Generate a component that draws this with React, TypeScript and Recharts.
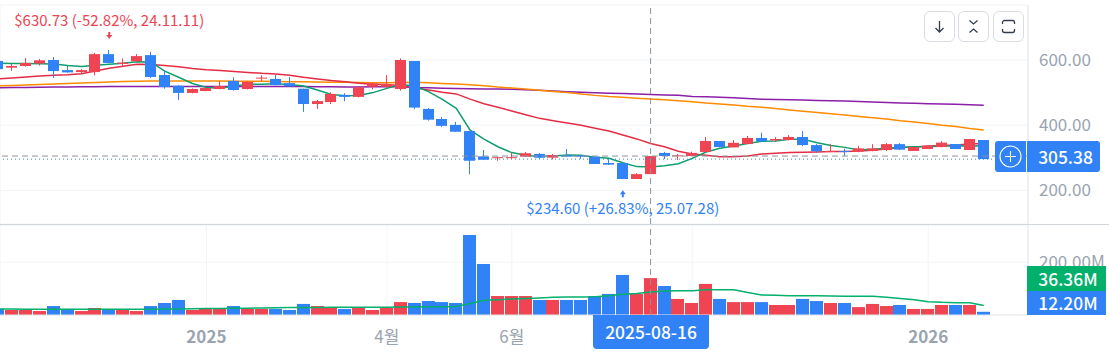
import React from 'react';
import { ComposedChart, Bar, Line, XAxis, YAxis, CartesianGrid, ReferenceLine, ReferenceDot } from 'recharts';

const RED = '#f04452';
const BLUE = '#3182f6';
const GREEN = '#00b06b';
const GRID = '#f2f4f6';
const AXIS = '#e5e8eb';
const LABEL = '#9aa4af';
const FONT = '"Noto Sans CJK KR", "Noto Sans", sans-serif';

const opens = [
  597, 576.5, 581.6, 589, 600, 569, 563, 563, 618, 588,
  596, 615, 554, 521, 499, 505, 511, 536, 511, 543,
  542, 529, 512, 465, 471, 493, 487, 518, 518, 511,
  597, 450, 419, 401, 382, 304.5, 299, 299, 303.5, 312,
  300.5, 307.6, 307.6, 303.5, 284, 284, 235, 250, 315, 304.5,
  305.6, 318, 351.6, 332, 342.4, 361, 353.6, 354.6, 364, 339,
  319, 321, 319, 321, 324, 342, 321, 327, 333, 342.4,
  324, 354.6,
];
const closes = [
  572, 581.6, 591, 599, 566, 562, 569, 618, 591, 592,
  612, 548, 517, 499, 511, 514, 520, 508, 533, 546,
  523, 519, 465, 474, 496, 487, 516, 528.4, 526.4, 600,
  454, 417, 398, 380, 291, 294, 302, 302, 314, 300.5,
  308.6, 303.5, 303.5, 281, 279, 235, 250, 305.38, 305.6, 307.6,
  315, 351.6, 333, 346, 361, 350.6, 357.7, 364, 339, 320,
  321, 319, 329, 329, 342, 325, 333, 337, 346.5, 327,
  357.7, 296,
];
const highs = [
  600, 589, 606, 603, 609, 582, 572, 622, 630.73, 605,
  618, 625, 569, 523, 513, 516, 535, 547, 535, 553,
  554, 548, 512, 477, 501, 498, 518, 530, 554, 605,
  597, 453, 425, 410, 382, 324, 303, 315, 318, 315,
  312, 327, 308.6, 304, 296, 285, 253, 305.38, 318, 312,
  319, 364, 351.6, 354.6, 367, 377, 363, 370, 382, 342,
  342, 328, 336, 342, 345.4, 345, 333, 337, 351.6, 342.4,
  357.7, 354.6,
];
const lows = [
  565, 567, 579.5, 583, 545, 561, 560, 553, 590, 580,
  595, 545, 512, 477, 498, 504, 510, 506, 510, 536,
  522, 518, 441, 450, 465, 474, 485, 510, 513, 506,
  449, 414, 394, 379, 250, 293, 291, 297, 302.5, 298,
  295, 302.5, 297, 281, 278, 234.6, 235, 250, 296, 293,
  304.6, 317, 332, 332, 342, 349.5, 349.5, 353.6, 336, 316,
  318, 305.6, 317, 320, 321, 324, 321, 327, 332, 327,
  324, 296,
];
const maGreen = [
  590, 589.5, 589, 588.5, 588, 583, 580, 584, 587, 590,
  595, 594, 566, 547, 528, 516, 513, 520, 526, 526,
  527, 525, 520, 508, 494, 490, 491, 500, 513, 524.6,
  520, 503, 479, 452, 385, 357, 334, 316, 308, 303.5,
  305.6, 308.6, 307.6, 301.5, 298.4, 285, 273, 272, 276, 282,
  298.4, 318, 329, 336, 344, 350.6, 351.6, 357, 357, 346.5,
  338, 332, 324, 326, 329, 332, 334, 334, 336, 336,
  337, 336,
];
const maRed = [
  542, 545, 548, 551, 553, 555, 558, 566, 575, 581,
  587, 586, 583, 579, 574, 570, 568, 565, 562, 559,
  557, 553, 547, 542, 537, 533, 529, 526, 525, 521,
  515, 508, 501, 496, 480, 466, 455, 443.6, 432, 421,
  414, 407, 400, 391, 382, 370, 358, 344, 334, 320,
  312, 307.6, 303.5, 303.5, 305.6, 312, 314, 316, 317, 318,
  319, 319, 321, 323, 327, 332, 333, 336, 338, 339,
  342, 344,
];
const maOrange = [
  521, 522, 523.5, 525, 526.5, 528, 529.5, 531, 532.5, 534,
  535, 535.5, 535.5, 535.5, 535.5, 535.5, 535.5, 535, 535, 534.5,
  534, 533.5, 533, 532.5, 532, 531.5, 531, 530.5, 530.5, 531,
  531.5, 530, 528, 526.4, 524, 521, 517, 514, 511, 507.5,
  503.5, 500, 496, 491.5, 488, 486, 483, 480.4, 478, 475,
  472, 468, 465, 462, 458, 455, 451, 447, 443, 439,
  435, 431, 427, 423, 419, 414, 410, 405, 400, 396,
  390, 385,
];
const maPurple = [
  515, 515.5, 516, 516.5, 517, 517.5, 518, 518, 518.5, 518.5,
  519, 519, 519, 519, 519, 519, 519, 519, 519, 519,
  519, 518.5, 518.5, 518, 518, 517.5, 517.5, 518, 518.5, 518,
  516, 515, 513.5, 512.5, 511.5, 511, 511, 510, 508.5, 507,
  505, 503, 501, 499.5, 498, 497, 495.5, 494, 493, 492,
  488, 487, 486, 484.5, 482, 480, 479, 478, 477, 476,
  475, 474, 472.5, 471, 470, 468.5, 467, 466, 465, 464,
  462.5, 461,
];
const volumes = [
  22.8, 19, 19, 15, 34, 23, 15, 26.5, 23, 19,
  15, 34, 45.5, 57, 19, 23, 23, 34, 23, 23,
  23, 19, 42, 34, 30, 23, 26.5, 19, 26.5, 49,
  45.5, 53, 49, 45.5, 303.6, 193.5, 72, 72, 72, 57,
  57, 57, 57, 72, 80, 152, 80, 140, 110, 61,
  45.5, 118, 61, 49, 49, 49, 38, 38, 61, 53,
  45.5, 45.5, 30, 42, 34, 38, 23, 23, 38, 38,
  38, 12.2,
];
const volumeMa = [
  22.8, 22.5, 22, 21.8, 21.8, 21.5, 21.5, 21.5, 21.5, 22,
  22, 22, 22.5, 23, 24, 25, 25, 25.5, 26, 27,
  27.5, 28, 28.5, 28.5, 29, 29, 29, 29.5, 29.5, 30,
  30, 31, 31.5, 32, 44, 55.7, 58, 61, 63, 64.5,
  67, 68, 68, 69.6, 73, 78.4, 82, 87, 91, 92,
  92, 96, 96, 96, 85, 76, 75, 73, 73, 73,
  72, 71, 71, 71, 67, 63, 58, 50.6, 48, 46.8,
  46.8, 36.36,
];

// the tick at 50 sits under the crosshair date box, so it has no visible label
const tickIndexes = [15, 28, 37, 50, 67];
const tickLabels = ['2025', '4월', '6월', '', '2026'];
const boldTicks = ['2025', '2026'];

const data = opens.map((open, i) => ({
  i,
  open,
  close: closes[i],
  range: [lows[i], highs[i]],
  volume: volumes[i],
  maGreen: maGreen[i],
  maRed: maRed[i],
  maOrange: maOrange[i],
  maPurple: maPurple[i],
  volumeMa: volumeMa[i],
}));

const CROSS_INDEX = 47;
const X_DOMAIN = [0.13, 74.19];

// wick from the full bar, body scaled inside it
function Candle(props: any) {
  const { x, y, width, height, payload } = props;
  const high = payload.range[1];
  const low = payload.range[0];
  const color = payload.close >= payload.open ? RED : BLUE;
  const perUnit = height / (high - low);
  const top = y + (high - Math.max(payload.open, payload.close)) * perUnit;
  const bodyH = Math.max(Math.abs(payload.close - payload.open) * perUnit, 1);
  const left = Math.round(x);
  return (
    <g>
      <rect x={left + Math.floor(width / 2)} y={y} width={1} height={height} fill={color} />
      <rect x={left} y={top} width={width} height={bodyH} fill={color} />
    </g>
  );
}

function VolumeBar(props: any) {
  const { x, y, width, height, payload } = props;
  return <rect x={Math.round(x)} y={y} width={width} height={height} fill={payload.close >= payload.open ? RED : BLUE} />;
}

function Marker({ cx, cy, text, color, above }: any) {
  const dir = above ? -1 : 1;
  const tip = cy + dir * 11;
  return (
    <g>
      <path
        d={`M${cx} ${tip}L${cx - 3} ${tip + dir * 4}H${cx - 1}V${tip + dir * 7}H${cx + 1}V${tip + dir * 4}H${cx + 3}Z`}
        fill={color}
      />
      <text x={cx} y={cy + (above ? -24 : 35)} textAnchor="middle" fontSize={15} fontFamily={FONT} fill={color}>
        {text}
      </text>
    </g>
  );
}

function AxisTick({ x, y, payload }: any) {
  const label = tickLabels[tickIndexes.indexOf(payload.value)];
  const bold = boldTicks.includes(label);
  return (
    <g>
      {label && (
        <text x={x} y={y + 26} textAnchor="middle" fontSize={17} fontWeight={bold ? 600 : 400} fontFamily={FONT} fill={LABEL}>
          {label}
        </text>
      )}
      <line x1={x} x2={x} y1={y + 41} y2={y + 43} stroke={GRID} />
    </g>
  );
}

function IconButton({ left, children }: any) {
  return (
    <div
      style={{
        position: 'absolute', left, top: 11, width: 29, height: 29, background: '#fff',
        border: '1px solid #d9dde2', borderRadius: 6, display: 'flex', alignItems: 'center', justifyContent: 'center',
      }}
    >
      <svg width="17" height="17" viewBox="0 0 17 17" fill="none" stroke="#333d4b" strokeWidth="1.3">
        {children}
      </svg>
    </div>
  );
}

function PriceBox({ left, top, width, height, bg, children, radius, pad = 0 }: any) {
  return (
    <div
      style={{
        position: 'absolute', left, top, width: width - pad, height, paddingLeft: pad, background: bg, borderRadius: radius,
        color: '#fff', fontFamily: FONT, fontSize: 17.4, fontWeight: 500, display: 'flex',
        alignItems: 'center', justifyContent: 'center', lineHeight: 1,
      }}
    >
      {children}
    </div>
  );
}

export default function App() {
  return (
    <div style={{ position: 'absolute', left: 0, top: 0, width: 1109, height: 358, overflow: 'hidden', background: '#fff' }}>
      <div style={{ position: 'absolute', left: 0, top: 0 }}>
        <ComposedChart width={1109} height={224} data={data} margin={{ top: 5, right: 0, bottom: 0, left: 0 }}>
          <CartesianGrid stroke={GRID} />
          <XAxis dataKey="i" type="number" domain={X_DOMAIN} allowDataOverflow ticks={tickIndexes} height={0} tick={false} axisLine={false} tickLine={false} />
          <YAxis
            orientation="right"
            width={81}
            domain={[97, 768.7]}
            allowDataOverflow
            ticks={[200, 400, 600]}
            tickFormatter={(v: number) => v.toFixed(2)}
            tick={{ fontSize: 17, fill: LABEL, fontFamily: FONT }}
            tickSize={0}
            tickMargin={11}
            axisLine={{ stroke: AXIS }}
          />
          <Line dataKey="maPurple" stroke="#8b1fa8" strokeWidth={1.5} dot={false} isAnimationActive={false} />
          <Line dataKey="maOrange" stroke="#ff8a00" strokeWidth={1.5} dot={false} isAnimationActive={false} />
          <Line dataKey="maRed" stroke="#e42d45" strokeWidth={1.5} dot={false} isAnimationActive={false} />
          <Line dataKey="maGreen" stroke="#0e9f6e" strokeWidth={1.5} dot={false} isAnimationActive={false} />
          <Bar dataKey="range" barSize={11} shape={Candle} isAnimationActive={false} zIndex={500} />
          <ReferenceLine y={296} stroke={BLUE} strokeDasharray="1 3" zIndex={600} />
          <ReferenceLine y={305.38} stroke="#8b95a1" strokeDasharray="6 4" zIndex={600} />
          <ReferenceLine x={CROSS_INDEX} stroke="#8b95a1" strokeDasharray="6 4" zIndex={600} />
          <ReferenceDot
            x={8}
            y={630.73}
            shape={(p: any) => <Marker {...p} above color={RED} text="$630.73 (-52.82%, 24.11.11)" />}
          />
          <ReferenceDot
            x={45}
            y={234.6}
            shape={(p: any) => <Marker {...p} color={BLUE} text="$234.60 (+26.83%, 25.07.28)" />}
          />
        </ComposedChart>
      </div>
      <div style={{ position: 'absolute', left: 0, top: 224, width: 1109, height: 1, background: '#d1d6db' }} />
      <div style={{ position: 'absolute', left: 0, top: 225 }}>
        <ComposedChart width={1109} height={133} data={data} margin={{ top: 0, right: 0, bottom: 0, left: 0 }}>
          <CartesianGrid stroke={GRID} />
          <XAxis
            dataKey="i"
            type="number"
            domain={X_DOMAIN}
            allowDataOverflow
            ticks={tickIndexes}
            height={43}
            tick={<AxisTick />}
            tickLine={false}
            tickSize={0}
            axisLine={{ stroke: AXIS }}
            interval={0}
          />
          <YAxis
            orientation="right"
            width={81}
            domain={[0, 341.6]}
            allowDataOverflow
            ticks={[200]}
            tickFormatter={(v: number) => `${v.toFixed(2)}M`}
            tick={{ fontSize: 17, fill: LABEL, fontFamily: FONT }}
            tickSize={0}
            tickMargin={11}
            axisLine={{ stroke: AXIS }}
          />
          <Bar dataKey="volume" barSize={13} shape={VolumeBar} isAnimationActive={false} />
          <Line dataKey="volumeMa" stroke={GREEN} strokeWidth={1.5} dot={false} isAnimationActive={false} />
          <ReferenceLine x={CROSS_INDEX} stroke="#8b95a1" strokeDasharray="6 4" zIndex={600} />
        </ComposedChart>
      </div>

      <IconButton left={924}>
        <path d="M8.5 3V14M4.5 10L8.5 14L12.5 10" />
      </IconButton>
      <IconButton left={958}>
        <path d="M4.5 2.5L8.5 6L12.5 2.5M4.5 14.5L8.5 11L12.5 14.5" />
      </IconButton>
      <IconButton left={993}>
        <path d="M2.5 6V4.5A2 2 0 0 1 4.5 2.5H12.5A2 2 0 0 1 14.5 4.5V6M2.5 11V12.5A2 2 0 0 0 4.5 14.5H12.5A2 2 0 0 0 14.5 12.5V11" />
      </IconButton>

      <PriceBox left={995} top={141} width={31} height={31} bg={BLUE} radius="3px 0 0 3px">
        <svg width="23" height="23" viewBox="0 0 23 23" fill="none" stroke="#fff" strokeWidth="1.1">
          <circle cx="11.5" cy="11.5" r="10.5" />
          <path d="M11.5 6V17M6 11.5H17" />
        </svg>
      </PriceBox>
      <PriceBox left={1027} top={141} width={73} height={31} bg={BLUE} radius="0 3px 3px 0" pad={4}>305.38</PriceBox>
      <PriceBox left={1027} top={266} width={79} height={25} bg={GREEN} radius={0} pad={3}>36.36M</PriceBox>
      <PriceBox left={1027} top={291} width={79} height={24} bg={BLUE} radius={0} pad={3}>12.20M</PriceBox>
      <PriceBox left={593} top={315} width={116} height={34} bg={BLUE} radius="0 0 4px 4px">2025-08-16</PriceBox>
    </div>
  );
}
